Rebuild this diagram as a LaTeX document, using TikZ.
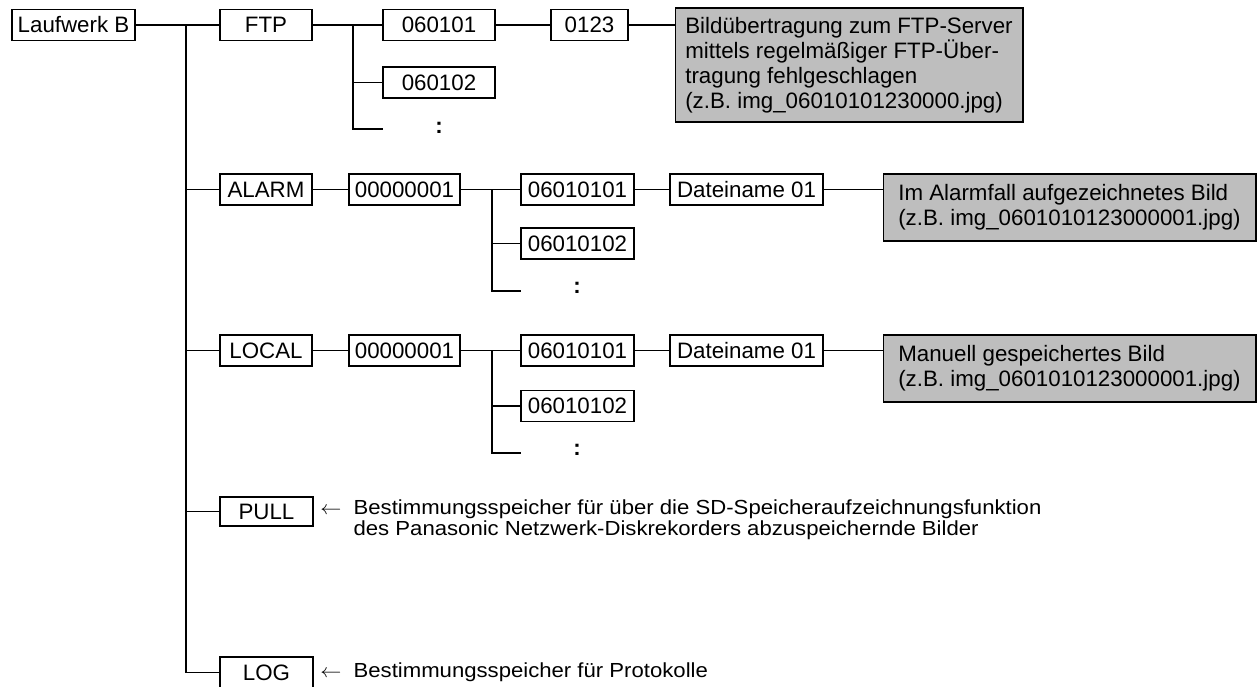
\documentclass[tikz,border=0pt]{standalone}
\usepackage{fontspec}
\setmainfont{Liberation Sans}
\usepackage{graphicx}

\definecolor{notegray}{RGB}{190,190,190}

\begin{document}
\begin{tikzpicture}[x=0.02cm, y=-0.02cm,
    font=\fontsize{12.7}{14.2}\selectfont,
    dir/.style={draw, line width=0.6pt, inner sep=0pt, minimum height=0.62cm},
    note/.style={draw, line width=0.6pt, fill=notegray, align=left, inner sep=0pt},
    hint/.style={anchor=west, inner sep=0pt},
    link/.style={line width=0.6pt}
]
\clip (0,0) rectangle (1257,686);

% Root
\node[dir, minimum width=2.46cm] (drive) at (73.5,25) {Laufwerk B};
\coordinate (trunk) at (186,25);

% FTP folder
\node[dir, minimum width=1.84cm] (ftp)     at (266,25)   {FTP};
\node[dir, minimum width=2.24cm] (ftpday1) at (439,25)   {060101};
\node[dir, minimum width=2.24cm] (ftpday2) at (439,82.5) {060102};
\node (ftpmore) at (439,128) {\textbf{:}};
\node[dir, minimum width=1.54cm] (ftphour) at (589.5,25) {0123};
\node[note, minimum width=6.96cm, minimum height=2.28cm] (ftpnote) at (849,65)
  {Bildübertragung zum FTP-Server\\
   mittels regelmäßiger FTP-Über-\\
   tragung fehlgeschlagen\\
   (z.B. img\_06010101230000.jpg)};
\coordinate (ftpsplit) at (353,25);
\coordinate (ftpend)   at (383,129);

% ALARM folder
\node[dir, minimum width=1.84cm] (alarm)     at (266,189.5)   {ALARM};
\node[dir, minimum width=2.22cm] (alarmid)   at (404.5,189.5) {00000001};
\node[dir, minimum width=2.26cm] (alarmday1) at (577.5,189.5) {06010101};
\node[dir, minimum width=2.26cm] (alarmday2) at (577.5,243.5) {06010102};
\node (alarmmore) at (577,288) {\textbf{:}};
\node[dir, minimum width=3.06cm] (alarmfile) at (746.5,189.5) {Dateiname 01};
\node[note, minimum width=7.46cm, minimum height=1.34cm] (alarmnote) at (1069.5,207.5)
  {Im Alarmfall aufgezeichnetes Bild\\
   (z.B. img\_0601010123000001.jpg)};
\coordinate (alarmsplit) at (492,189.5);
\coordinate (alarmend)   at (521,291);

% LOCAL folder
\node[dir, minimum width=1.84cm] (local)     at (266,350.5)   {LOCAL};
\node[dir, minimum width=2.22cm] (localid)   at (404.5,350.5) {00000001};
\node[dir, minimum width=2.26cm] (localday1) at (577.5,350.5) {06010101};
\node[dir, minimum width=2.26cm] (localday2) at (577.5,406)   {06010102};
\node (localmore) at (577,450) {\textbf{:}};
\node[dir, minimum width=3.06cm] (localfile) at (746.5,350.5) {Dateiname 01};
\node[note, minimum width=7.46cm, minimum height=1.34cm] (localnote) at (1069.5,368.5)
  {Manuell gespeichertes Bild\\
   (z.B. img\_0601010123000001.jpg)};
\coordinate (localsplit) at (492,350.5);
\coordinate (localend)   at (521,453);

% PULL and LOG folders
\node[dir, minimum width=1.86cm, minimum height=0.58cm] (pull) at (266.5,511.5) {PULL};
\node[hint] (pullhint) at (320,521)
  {\scalebox{1}[0.92]{\fontsize{12.6}{12.4}\selectfont
   \begin{tabular}{@{}l@{}}
   $\leftarrow$\hspace{0.55em}Bestimmungsspeicher für über die SD-Speicheraufzeichnungsfunktion\\
   \hphantom{$\leftarrow$\hspace{0.55em}}des Panasonic Netzwerk-Diskrekorders abzuspeichernde Bilder
   \end{tabular}}};
\node[dir, minimum width=1.86cm] (log) at (266.5,672.5) {LOG};
\node[hint] (loghint) at (320,672)
  {\scalebox{1}[0.92]{\fontsize{12.6}{12.4}\selectfont
   $\leftarrow$\hspace{0.55em}Bestimmungsspeicher für Protokolle}};

% Tree lines
\draw[link] (drive) -- (ftp);
\draw[link] (trunk) |- (alarm);
\draw[link] (trunk) |- (local);
\draw[link] (trunk) |- (pull);
\draw[link] (trunk) |- (log);

\draw[link] (ftp) -- (ftpday1);
\draw[link] (ftpsplit) |- (ftpday2);
\draw[link] (ftpsplit) |- (ftpend);
\draw[link] (ftpday1) -- (ftphour);
\draw[link] (ftphour) -- (ftphour -| ftpnote.west);

\draw[link] (alarm) -- (alarmid);
\draw[link] (alarmid) -- (alarmday1);
\draw[link] (alarmsplit) |- (alarmday2);
\draw[link] (alarmsplit) |- (alarmend);
\draw[link] (alarmday1) -- (alarmfile);
\draw[link] (alarmfile) -- (alarmfile -| alarmnote.west);

\draw[link] (local) -- (localid);
\draw[link] (localid) -- (localday1);
\draw[link] (localsplit) |- (localday2);
\draw[link] (localsplit) |- (localend);
\draw[link] (localday1) -- (localfile);
\draw[link] (localfile) -- (localfile -| localnote.west);
\end{tikzpicture}
\end{document}
